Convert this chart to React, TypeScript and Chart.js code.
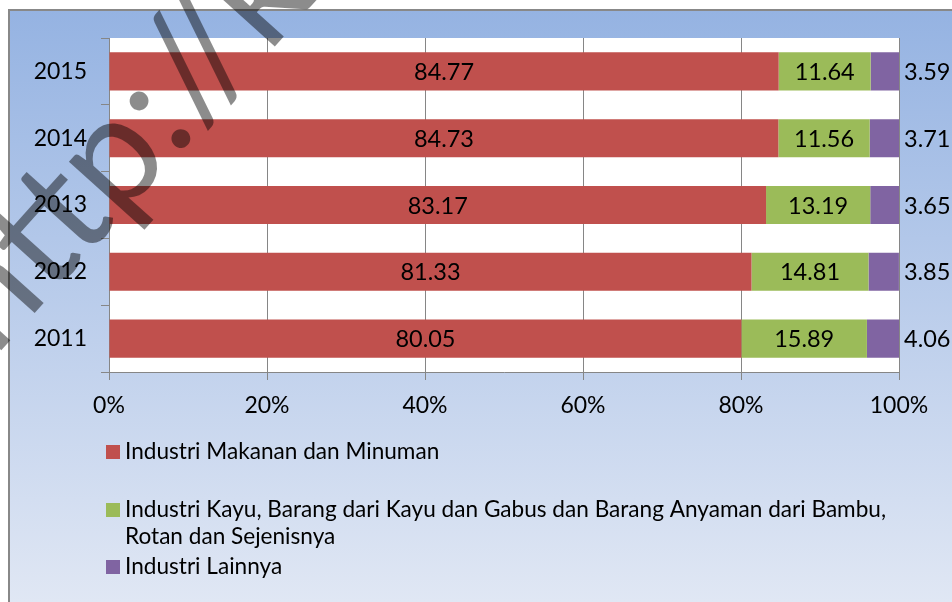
import React, { useEffect, useRef } from "react";
import { Chart, registerables } from "chart.js";

Chart.register(...registerables);

const years = ["2015", "2014", "2013", "2012", "2011"];
const makananMinuman = [84.77, 84.73, 83.17, 81.33, 80.05];
const kayuBambu = [11.64, 11.56, 13.19, 14.81, 15.89];
const lainnya = [3.59, 3.71, 3.65, 3.85, 4.06];
const seriesNames = [
  "Industri Makanan dan Minuman",
  "Industri Kayu, Barang dari Kayu dan Gabus dan Barang Anyaman dari Bambu, Rotan dan Sejenisnya",
  "Industri Lainnya",
];
const legendLines = [
  ["Industri Makanan dan Minuman"],
  ["Industri Kayu, Barang dari Kayu dan Gabus dan Barang Anyaman dari Bambu,", "Rotan dan Sejenisnya"],
  ["Industri Lainnya"],
];
const xTickValues = [0, 20, 40, 60, 80, 100];
const watermarkText = "http://ke";

const COLORS = ["#C0504D", "#9BBB59", "#8064A2"];
const GRID = "#868686";
const FONT = "Lato, 'Noto Sans', sans-serif";

export default function App() {
  const ref = useRef<HTMLCanvasElement | null>(null);

  useEffect(() => {
    const canvas = ref.current;
    if (!canvas) return;

    const bgPlugin = {
      id: "bg",
      beforeDraw(chart: any) {
        const { ctx, width, height, chartArea } = chart;
        ctx.save();
        ctx.fillStyle = "#ffffff";
        ctx.fillRect(0, 0, width, height);
        const g = ctx.createLinearGradient(0, 10, 0, height);
        g.addColorStop(0, "#95B3E2");
        g.addColorStop(1, "#E0E7F4");
        ctx.fillStyle = g;
        ctx.fillRect(9, 10, width - 9, height - 10);
        ctx.strokeStyle = "#888888";
        ctx.lineWidth = 2;
        ctx.beginPath();
        ctx.moveTo(9, height + 2);
        ctx.lineTo(9, 10);
        ctx.lineTo(width + 2, 10);
        ctx.stroke();
        ctx.fillStyle = "#ffffff";
        ctx.fillRect(chartArea.left, chartArea.top, chartArea.right - chartArea.left, chartArea.bottom - chartArea.top);
        ctx.restore();
      },
    };

    const labelPlugin = {
      id: "labels",
      afterDatasetsDraw(chart: any) {
        const { ctx } = chart;
        ctx.save();
        ctx.font = `23.5px ${FONT}`;
        ctx.fillStyle = "#000000";
        ctx.textBaseline = "middle";
        chart.data.datasets.forEach((ds: any, di: number) => {
          const meta = chart.getDatasetMeta(di);
          meta.data.forEach((el: any, i: number) => {
            const v = ds.data[i];
            const txt = v.toFixed(2);
            if (di < 2) {
              ctx.textAlign = "center";
              ctx.fillText(txt, (el.x + el.base) / 2, el.y + 1);
            } else {
              ctx.textAlign = "left";
              ctx.fillText(txt, el.x + 5, el.y + 1);
            }
          });
        });
        ctx.restore();
      },
    };

    const legendPlugin = {
      id: "customLegend",
      afterDraw(chart: any) {
        const { ctx } = chart;
        ctx.save();
        ctx.font = `22.6px ${FONT}`;
        ctx.fillStyle = "#000000";
        ctx.textBaseline = "middle";
        ctx.textAlign = "left";
        const starts = [452, 510, 567];
        const lineH = 27;
        legendLines.forEach((lines, i) => {
          const cy = starts[i];
          ctx.fillStyle = COLORS[i];
          ctx.fillRect(106, cy - 7, 14, 14);
          ctx.fillStyle = "#000000";
          lines.forEach((l, j) => ctx.fillText(l, 125, cy + j * lineH));
        });
        ctx.restore();
      },
    };

    const watermarkPlugin = {
      id: "watermark",
      afterDraw(chart: any) {
        const { ctx } = chart;
        const size = 150;
        const theta = (-48 * Math.PI) / 180;
        ctx.save();
        ctx.font = `${size}px ${FONT}`;
        const wHttp = ctx.measureText("http").width;
        const wColon = ctx.measureText(":").width;
        const ux = Math.cos(theta);
        const uy = Math.sin(theta);
        const nx = -Math.sin(theta);
        const ny = Math.cos(theta);
        const along = wHttp + wColon / 2;
        const down = 0.26 * size;
        const ox = 158 - ux * along + nx * down;
        const oy = 118 - uy * along + ny * down;
        ctx.translate(ox, oy);
        ctx.rotate(theta);
        ctx.fillStyle = "rgba(0,0,0,0.45)";
        ctx.textBaseline = "alphabetic";
        ctx.textAlign = "left";
        ctx.fillText(watermarkText, 0, 0);
        ctx.restore();
      },
    };

    const chart = new Chart(canvas, {
      type: "bar",
      data: {
        labels: years,
        datasets: [
          { label: seriesNames[0], data: makananMinuman, backgroundColor: COLORS[0] },
          { label: seriesNames[1], data: kayuBambu, backgroundColor: COLORS[1] },
          { label: seriesNames[2], data: lainnya, backgroundColor: COLORS[2] },
        ],
      },
      options: {
        indexAxis: "y",
        animation: false,
        responsive: false,
        events: [],
        layout: { padding: { left: 0, top: 38, right: 53, bottom: 180 } },
        datasets: { bar: { barPercentage: 0.57, categoryPercentage: 1 } },
        plugins: { legend: { display: false }, tooltip: { enabled: false } },
        scales: {
          x: {
            stacked: true,
            min: 0,
            max: 100,
            afterBuildTicks: (s: any) => {
              s.ticks = xTickValues.map((v) => ({ value: v }));
            },
            afterFit: (s: any) => {
              s.height = 50;
            },
            grid: { color: GRID, lineWidth: 1, drawTicks: true, tickLength: 8, tickColor: GRID },
            border: { color: GRID, width: 1 },
            ticks: {
              color: "#000000",
              font: { family: FONT, size: 23 },
              padding: 12,
              maxRotation: 0,
              callback: (v: any) => `${v}%`,
            },
          },
          y: {
            stacked: true,
            afterFit: (s: any) => {
              s.width = 109;
            },
            grid: { offset: true, drawOnChartArea: false, drawTicks: true, tickLength: 8, tickColor: GRID, color: GRID },
            border: { color: GRID, width: 1 },
            ticks: { color: "#000000", font: { family: FONT, size: 23 }, padding: 14 },
          },
        },
      },
      plugins: [bgPlugin, labelPlugin, legendPlugin, watermarkPlugin],
    } as any);

    return () => chart.destroy();
  }, []);

  return (
    <div style={{ position: "fixed", left: 0, top: 0, width: 952, height: 602 }}>
      <canvas ref={ref} width={952} height={602} style={{ display: "block", width: 952, height: 602 }} />
    </div>
  );
}
